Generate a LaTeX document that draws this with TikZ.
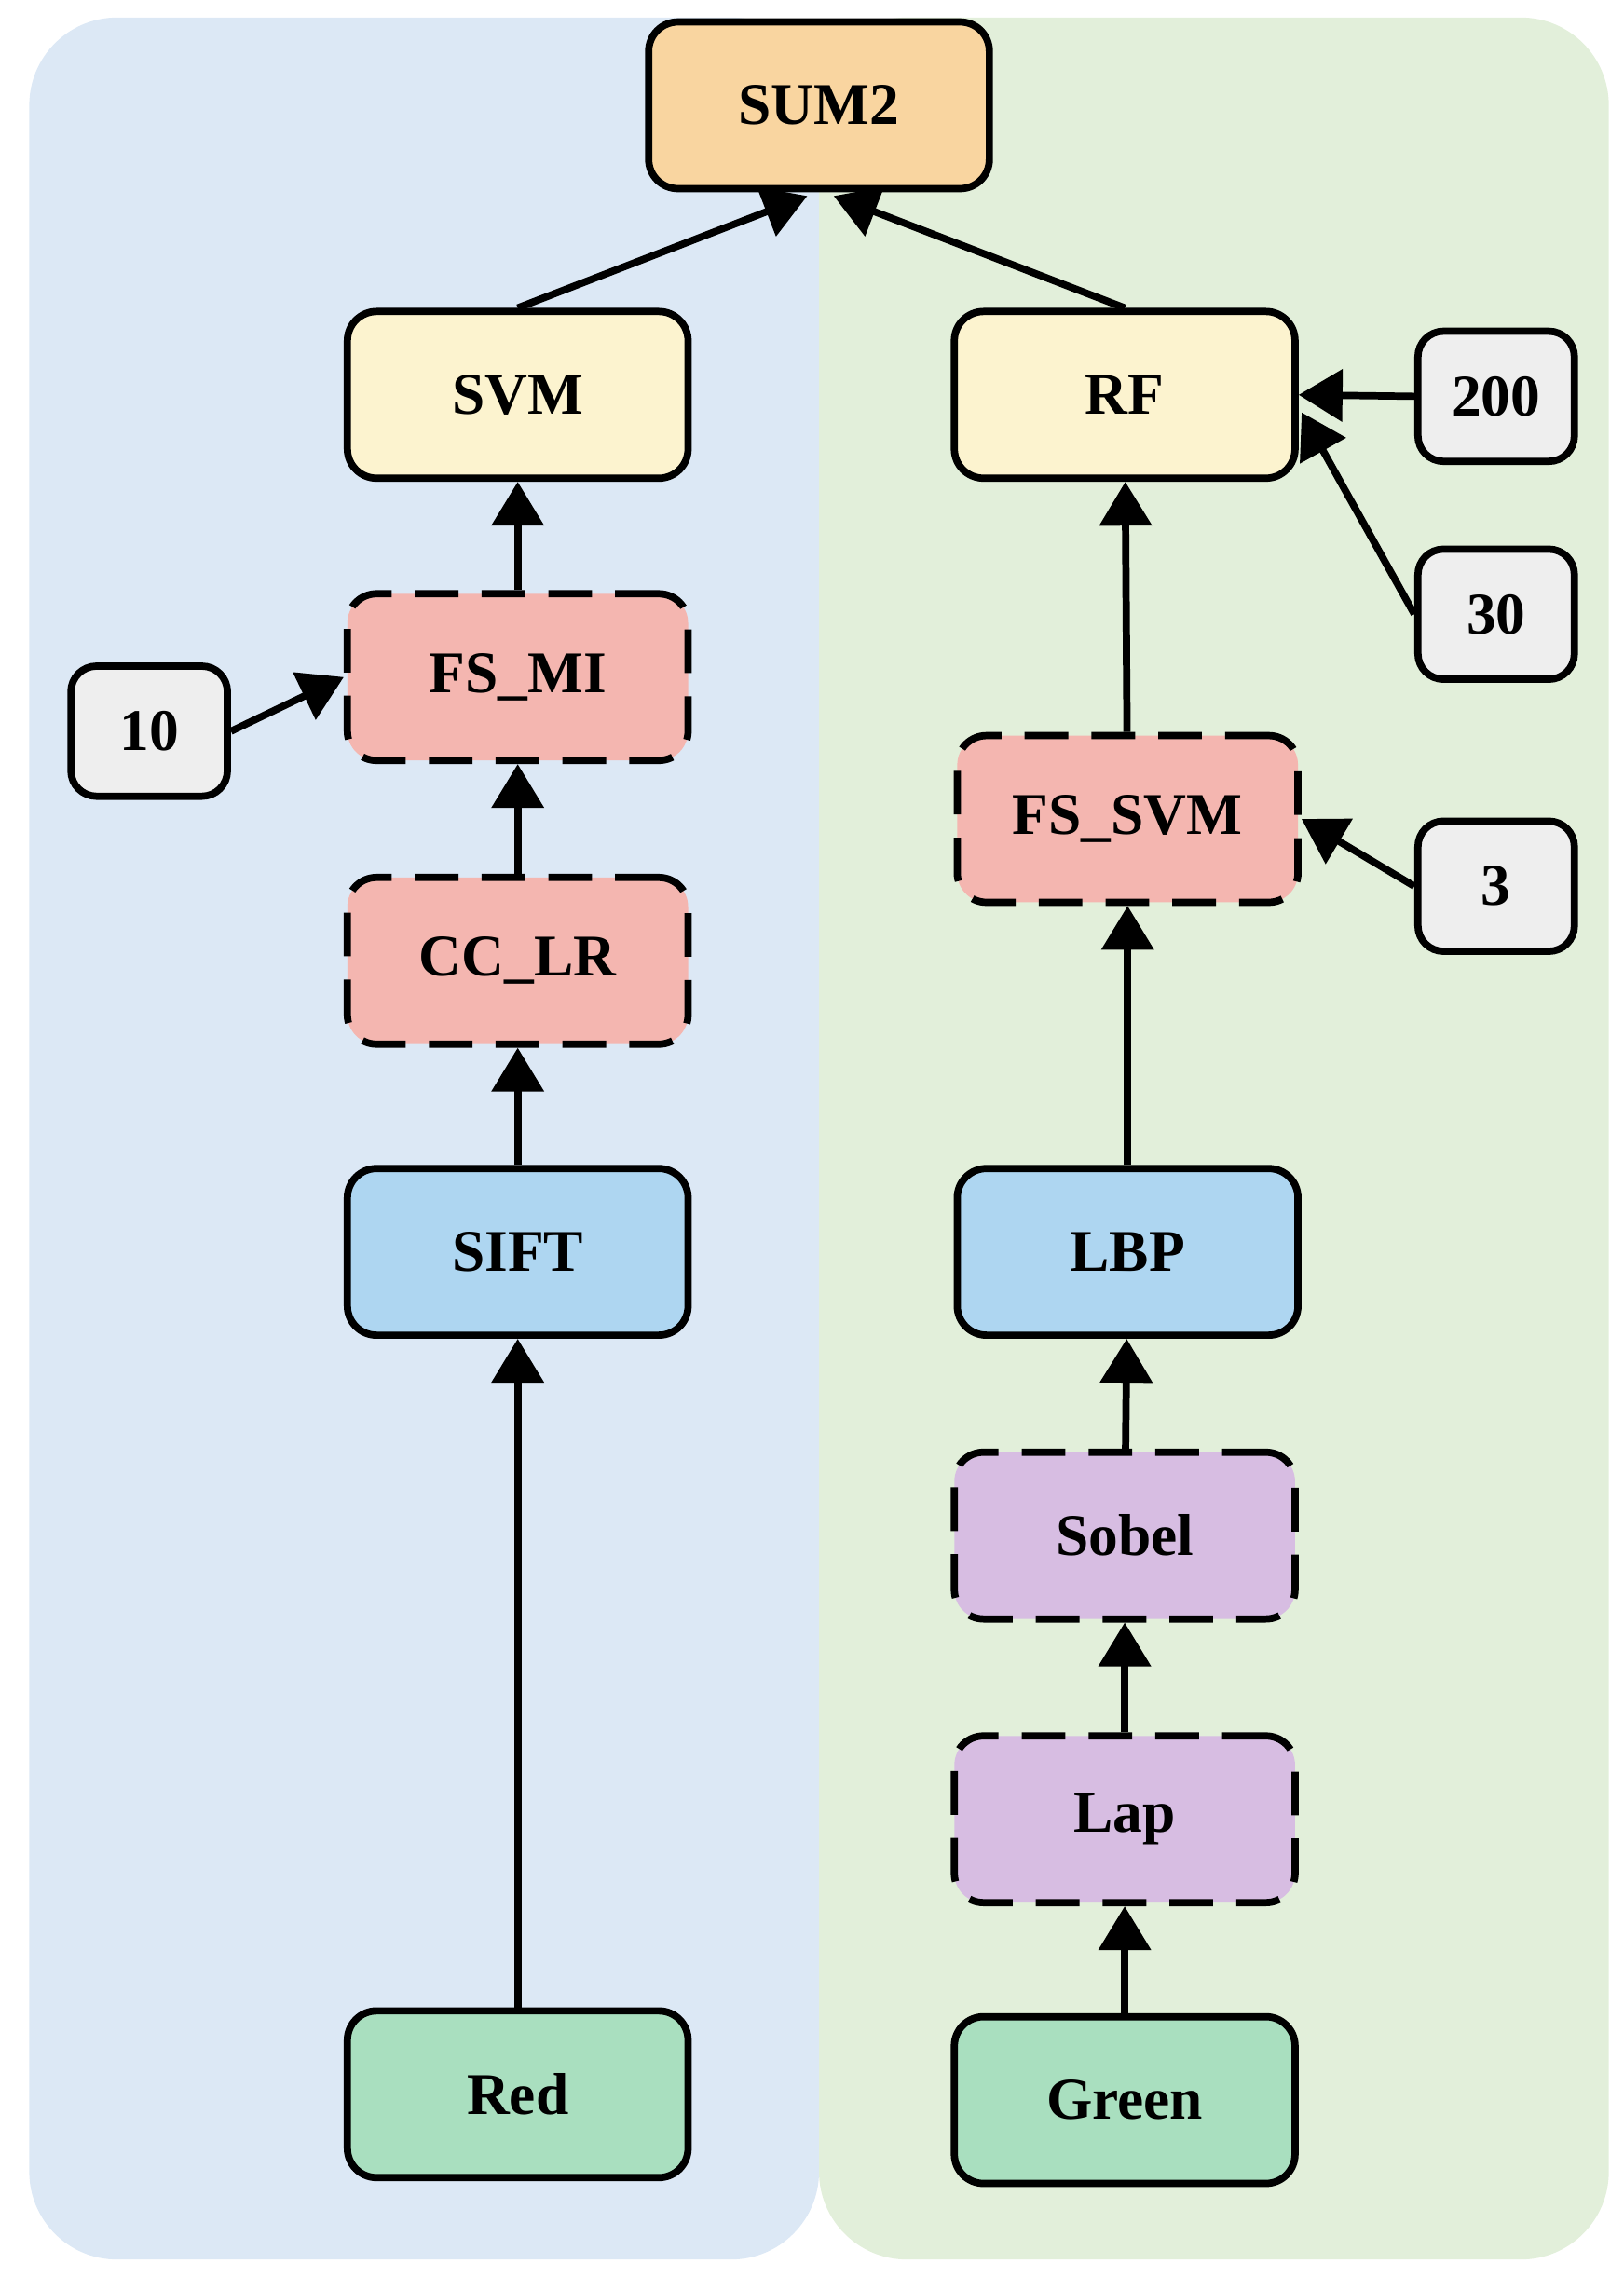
\documentclass[tikz,border=0pt]{standalone}
\usepackage{fontspec}
\setmainfont{Liberation Serif}
\usetikzlibrary{arrows.meta}
\definecolor{bgL}{HTML}{DCE8F5}
\definecolor{bgR}{HTML}{E2EFDA}
\definecolor{cSum}{HTML}{F9D5A0}
\definecolor{cCls}{HTML}{FCF3CF}
\definecolor{cFs}{HTML}{F4B6B0}
\definecolor{cFeat}{HTML}{AED6F1}
\definecolor{cIn}{HTML}{A9DFBF}
\definecolor{cPre}{HTML}{D7BDE2}
\definecolor{cPar}{HTML}{EEEEEE}
\begin{document}
\begin{tikzpicture}[x=0.02cm,y=-0.02cm,
  box/.style={draw,line width=2.8pt,rounded corners=0.4cm,minimum width=4.66cm,minimum height=2.28cm,font=\fontsize{23}{27}\selectfont\bfseries},
  dsh/.style={box,dash pattern=on 17pt off 9pt},
  par/.style={draw,line width=2.8pt,rounded corners=0.35cm,minimum width=2.14cm,minimum height=1.78cm,fill=cPar,font=\fontsize{23}{27}\selectfont\bfseries},
  arr/.style={line width=2.8pt,-{Triangle[length=0.6cm,width=0.7cm]}}]
\useasboundingbox (0,0) rectangle (1110,1557);
\fill[bgL,rounded corners=1.2cm] (20,12) rectangle (560,1545);
\fill[bgR,rounded corners=1.2cm] (560,12) rectangle (1100,1545);
\node[box,fill=cSum] (sum) at (560,72) {SUM2};
\node[box,fill=cCls] (svm) at (354,270) {SVM};
\node[box,fill=cCls] (rf) at (769,270) {RF};
\node[dsh,fill=cFs] (fsmi) at (354,463) {FS\_MI};
\node[dsh,fill=cFs] (cclr) at (354,657) {CC\_LR};
\node[box,fill=cFeat] (sift) at (354,856) {SIFT};
\node[box,fill=cIn] (red) at (354,1432) {Red};
\node[par] (p10) at (102,500) {10};
\node[dsh,fill=cFs] (fssvm) at (771,560) {FS\_SVM};
\node[box,fill=cFeat] (lbp) at (771,856) {LBP};
\node[dsh,fill=cPre] (sobel) at (769,1050) {Sobel};
\node[dsh,fill=cPre] (lap) at (769,1244) {Lap};
\node[box,fill=cIn] (green) at (769,1436) {Green};
\node[par] (p200) at (1023,271) {200};
\node[par] (p30) at (1023,420) {30};
\node[par] (p3) at (1023,606) {3};
\coordinate (sA) at (552,134);
\coordinate (sB) at (570,134);
\coordinate (rfA) at (890,282);
\draw[arr] (svm.north) -- (sA);
\draw[arr] (rf.north) -- (sB);
\draw[arr] (fsmi) -- (svm);
\draw[arr] (cclr) -- (fsmi);
\draw[arr] (sift) -- (cclr);
\draw[arr] (red) -- (sift);
\draw[arr] (p10.east) -- (fsmi.west);
\draw[arr] (green) -- (lap);
\draw[arr] (lap) -- (sobel);
\draw[arr] (sobel) -- (lbp);
\draw[arr] (lbp) -- (fssvm);
\draw[arr] (fssvm) -- (rf);
\draw[arr] (p200.west) -- (rf.east);
\draw[arr] (p30.west) -- (rfA);
\draw[arr] (p3.west) -- (fssvm.east);
\end{tikzpicture}
\end{document}
